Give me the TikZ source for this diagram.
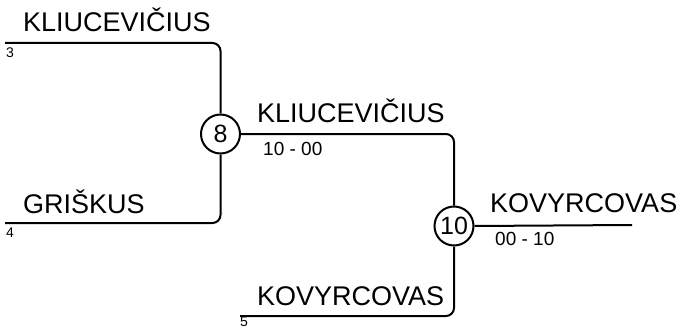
\documentclass[tikz,border=0pt]{standalone}
\usepackage{fontspec}
\setmainfont{Liberation Sans}
\begin{document}
\begin{tikzpicture}[x=1pt,y=-1pt,
  conn/.style={line width=2pt, rounded corners=8pt},
  matchnode/.style={circle, draw, line width=2pt, minimum size=39pt, inner sep=0pt, font=\fontsize{25}{25}\selectfont},
  pname/.style={anchor=base west, inner sep=0pt, font=\fontsize{27}{27}\selectfont},
  score/.style={anchor=base west, inner sep=0pt, font=\fontsize{19}{19}\selectfont},
  seednum/.style={anchor=base west, inner sep=0pt, font=\fontsize{14}{14}\selectfont}]
\useasboundingbox (0,0) rectangle (678,329);
\coordinate (s3) at (5,43);
\coordinate (s4) at (5,223);
\coordinate (s5) at (240,316);
\coordinate (fin) at (632,225);
\node[matchnode] (m8) at (220.5,134) {8};
\node[matchnode] (m10) at (454,226) {10};
\draw[conn] (s3) -| (m8.north);
\draw[conn] (s4) -| (m8.south);
\draw[conn] (m8.east) -| (m10.north);
\draw[conn] (s5) -| (m10.south);
\draw[conn] (m10.east) -- (fin);
\node[pname] (n1) at (23,32) {KLIUCEVIČIUS};
\node[seednum] (k1) at (6,58) {3};
\node[pname] (n2) at (23,213) {GRIŠKUS};
\node[seednum] (k2) at (6,237) {4};
\node[pname] (n3) at (257,123) {KLIUCEVIČIUS};
\node[score] (r1) at (263,155) {10 - 00};
\node[pname] (n4) at (257,305) {KOVYRCOVAS};
\node[seednum] (k3) at (240,326.5) {5};
\node[pname] (n5) at (490,212) {KOVYRCOVAS};
\node[score] (r2) at (495,245) {00 - 10};
\end{tikzpicture}
\end{document}
